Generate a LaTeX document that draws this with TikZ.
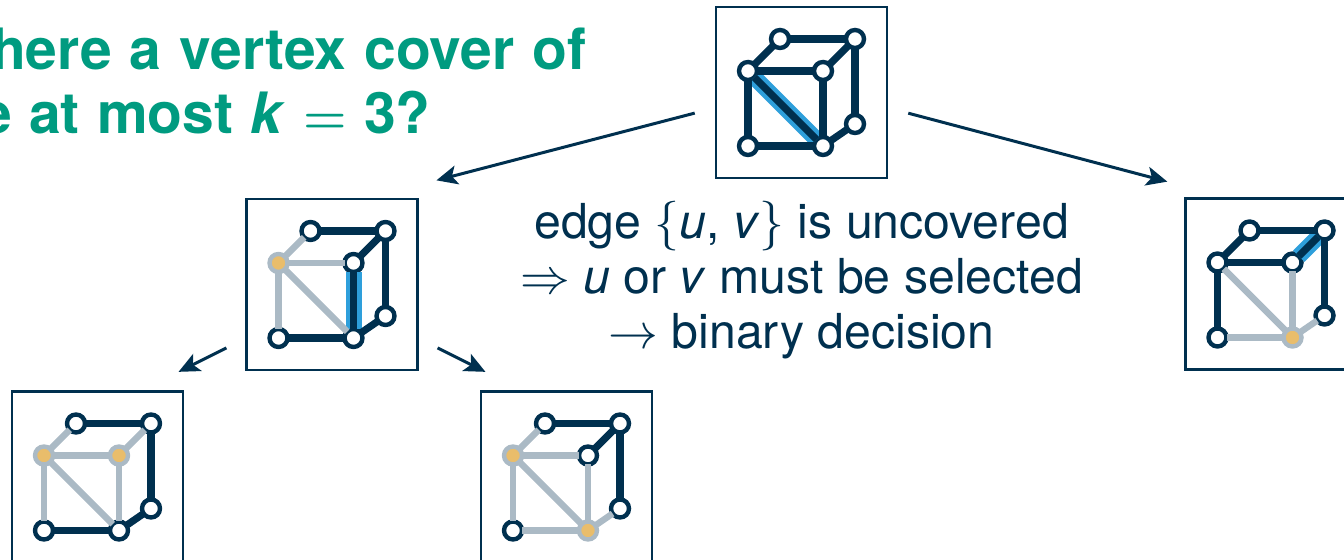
\documentclass[tikz,border=0pt]{standalone}
\usepackage{amsmath}
\usepackage{fontspec}
\setmainfont{TeX Gyre Heros}
\usetikzlibrary{arrows.meta,positioning}
\definecolor{navy}{HTML}{00304F}
\definecolor{skyblue}{HTML}{2E9FDB}
\definecolor{paleblue}{HTML}{ABBAC5}
\definecolor{sand}{HTML}{E9BD6B}
\definecolor{teal}{HTML}{009B80}
\tikzset{
    panel/.style={draw=navy,line width=1.35pt,rectangle,minimum size=85.5pt,inner sep=0pt,outer sep=0pt},
    vertex/.style={draw=navy,fill=white,circle,line width=2.2pt,minimum size=9pt,inner sep=0pt,outer sep=0pt},
    cover/.style={draw=paleblue,fill=sand},
    open/.style={navy,line width=3.6pt},
    done/.style={paleblue,line width=3.2pt},
    uncovered/.style={skyblue,line width=8pt},
    branch/.style={navy,line width=1.5pt,-{Stealth[length=10.5pt,width=9.5pt,inset=2.5pt]}},
    ask/.style={text=teal,font=\fontsize{28.5}{32}\selectfont\bfseries,anchor=base east,inner sep=0pt},
    left-ftl/.style={cover},
    right-fbr/.style={cover},
    lower-ftl/.style={cover},
    lower-ftr/.style={cover},
    other-ftl/.style={cover},
    other-fbr/.style={cover},
}
\newcommand{\cubepanel}[3]{
    \node[panel] (#1) at (#2,#3) {};
    \foreach \v/\dx/\dy in {ftl/-53.5/-21.5,ftr/21.5/-21.5,fbl/-53.5/53.5,fbr/21.5/53.5,btl/-21.5/-53.5,btr/53.5/-53.5,bbr/53.5/31.5}
        \node[vertex,#1-\v/.try] (#1-\v) at (#2+\dx,#3+\dy) {};
}
\newcommand{\cubeedges}[3]{
    \foreach \a/\b in {#2} \draw[open] (#1-\a) -- (#1-\b);
    \foreach \a/\b in {#3} \draw[done] (#1-\a) -- (#1-\b);
}
\begin{document}
\begin{tikzpicture}[x=0.5pt,y=-0.5pt]
\clip (0,0) rectangle (1344,560);

\cubepanel{top}{801.5}{92.5}
\cubepanel{left}{332}{284.5}
\cubepanel{right}{1271}{284}
\cubepanel{lower}{97.5}{477}
\cubepanel{other}{566.5}{477}

\draw[uncovered] (top-ftl) -- (top-fbr);
\draw[uncovered] (left-ftr) -- (left-fbr);
\draw[uncovered] (right-ftr) -- (right-btr);

\cubeedges{top}{ftl/ftr,ftl/fbl,fbl/fbr,ftr/fbr,ftl/fbr,ftl/btl,btl/btr,ftr/btr,btr/bbr,fbr/bbr}{}
\cubeedges{left}{btl/btr,ftr/btr,btr/bbr,ftr/fbr,fbl/fbr,fbr/bbr}{ftl/btl,ftl/ftr,ftl/fbl,ftl/fbr}
\cubeedges{right}{ftl/btl,btl/btr,ftl/ftr,ftr/btr,btr/bbr,ftl/fbl}{fbl/fbr,ftl/fbr,ftr/fbr,fbr/bbr}
\cubeedges{lower}{btl/btr,btr/bbr,fbr/bbr,fbl/fbr}{ftl/btl,ftl/ftr,ftl/fbl,ftl/fbr,ftr/fbr,ftr/btr}
\cubeedges{other}{btl/btr,ftr/btr,btr/bbr}{ftl/btl,ftl/ftr,ftl/fbl,ftl/fbr,ftr/fbr,fbl/fbr,fbr/bbr}

\draw[branch,shorten <=11pt,shorten >=37pt] (top.190) -- (left.69);
\draw[branch,shorten <=11pt,shorten >=33pt] (top.350) -- (right.115);
\draw[branch,shorten <=11.2pt,shorten >=22pt] (left.212) -- (lower.64);
\draw[branch,shorten <=11.2pt,shorten >=22pt] (left.328) -- (other.116);

\node[text=navy,font=\fontsize{24.1}{27.5}\selectfont,align=center] (why) at (801.5,280)
    {edge $\{$\textit{u}, \textit{v}$\}$ is uncovered\\
    $\Rightarrow$ \textit{u} or \textit{v} must be selected\\
    $\rightarrow$ binary decision};
\node[ask] (askone) at (587,70) {\spaceskip=9.1pt Is there a vertex cover of};
\node[ask] (asktwo) at (431,134) {\spaceskip=8.7pt size at most \textit{k} {\boldmath$=$} 3?};
\end{tikzpicture}
\end{document}
